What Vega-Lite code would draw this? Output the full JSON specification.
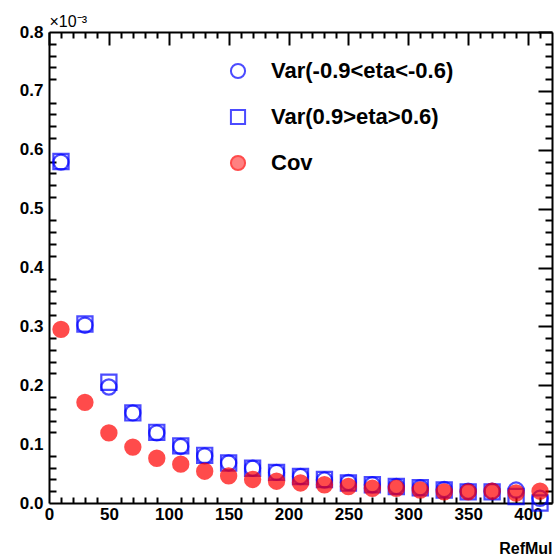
{
  "$schema": "https://vega.github.io/schema/vega-lite/v6.json",
  "width": 503,
  "height": 471,
  "autosize": {"type": "none"},
  "padding": {"left": 49, "top": 32, "right": 3, "bottom": 55},
  "background": "white",
  "config": {
    "view": {"stroke": null},
    "font": "Liberation Sans",
    "axis": {"domainColor": "black", "domainWidth": 2, "tickColor": "black", "tickWidth": 2, "grid": false, "labelFont": "Liberation Sans", "labelFontWeight": "bold", "labelFontSize": 17, "labelColor": "black"}
  },
  "datasets": {
    "pts": [
      {"RefMul": 10, "val": 0.579, "series": "Var(-0.9<eta<-0.6)"},
      {"RefMul": 30, "val": 0.302, "series": "Var(-0.9<eta<-0.6)"},
      {"RefMul": 50, "val": 0.197, "series": "Var(-0.9<eta<-0.6)"},
      {"RefMul": 70, "val": 0.153, "series": "Var(-0.9<eta<-0.6)"},
      {"RefMul": 90, "val": 0.119, "series": "Var(-0.9<eta<-0.6)"},
      {"RefMul": 110, "val": 0.096, "series": "Var(-0.9<eta<-0.6)"},
      {"RefMul": 130, "val": 0.080, "series": "Var(-0.9<eta<-0.6)"},
      {"RefMul": 150, "val": 0.068, "series": "Var(-0.9<eta<-0.6)"},
      {"RefMul": 170, "val": 0.059, "series": "Var(-0.9<eta<-0.6)"},
      {"RefMul": 190, "val": 0.052, "series": "Var(-0.9<eta<-0.6)"},
      {"RefMul": 210, "val": 0.045, "series": "Var(-0.9<eta<-0.6)"},
      {"RefMul": 230, "val": 0.039, "series": "Var(-0.9<eta<-0.6)"},
      {"RefMul": 250, "val": 0.035, "series": "Var(-0.9<eta<-0.6)"},
      {"RefMul": 270, "val": 0.031, "series": "Var(-0.9<eta<-0.6)"},
      {"RefMul": 290, "val": 0.028, "series": "Var(-0.9<eta<-0.6)"},
      {"RefMul": 310, "val": 0.026, "series": "Var(-0.9<eta<-0.6)"},
      {"RefMul": 330, "val": 0.023, "series": "Var(-0.9<eta<-0.6)"},
      {"RefMul": 350, "val": 0.020, "series": "Var(-0.9<eta<-0.6)"},
      {"RefMul": 370, "val": 0.020, "series": "Var(-0.9<eta<-0.6)"},
      {"RefMul": 390, "val": 0.022, "series": "Var(-0.9<eta<-0.6)"},
      {"RefMul": 410, "val": 0.008, "series": "Var(-0.9<eta<-0.6)"},
      {"RefMul": 10, "val": 0.580, "series": "Var(0.9>eta>0.6)"},
      {"RefMul": 30, "val": 0.304, "series": "Var(0.9>eta>0.6)"},
      {"RefMul": 50, "val": 0.205, "series": "Var(0.9>eta>0.6)"},
      {"RefMul": 70, "val": 0.153, "series": "Var(0.9>eta>0.6)"},
      {"RefMul": 90, "val": 0.120, "series": "Var(0.9>eta>0.6)"},
      {"RefMul": 110, "val": 0.097, "series": "Var(0.9>eta>0.6)"},
      {"RefMul": 130, "val": 0.081, "series": "Var(0.9>eta>0.6)"},
      {"RefMul": 150, "val": 0.068, "series": "Var(0.9>eta>0.6)"},
      {"RefMul": 170, "val": 0.059, "series": "Var(0.9>eta>0.6)"},
      {"RefMul": 190, "val": 0.052, "series": "Var(0.9>eta>0.6)"},
      {"RefMul": 210, "val": 0.045, "series": "Var(0.9>eta>0.6)"},
      {"RefMul": 230, "val": 0.040, "series": "Var(0.9>eta>0.6)"},
      {"RefMul": 250, "val": 0.034, "series": "Var(0.9>eta>0.6)"},
      {"RefMul": 270, "val": 0.031, "series": "Var(0.9>eta>0.6)"},
      {"RefMul": 290, "val": 0.028, "series": "Var(0.9>eta>0.6)"},
      {"RefMul": 310, "val": 0.026, "series": "Var(0.9>eta>0.6)"},
      {"RefMul": 330, "val": 0.022, "series": "Var(0.9>eta>0.6)"},
      {"RefMul": 350, "val": 0.019, "series": "Var(0.9>eta>0.6)"},
      {"RefMul": 370, "val": 0.019, "series": "Var(0.9>eta>0.6)"},
      {"RefMul": 390, "val": 0.011, "series": "Var(0.9>eta>0.6)"},
      {"RefMul": 410, "val": 0.0, "series": "Var(0.9>eta>0.6)"},
      {"RefMul": 10, "val": 0.295, "series": "Cov"},
      {"RefMul": 30, "val": 0.171, "series": "Cov"},
      {"RefMul": 50, "val": 0.119, "series": "Cov"},
      {"RefMul": 70, "val": 0.095, "series": "Cov"},
      {"RefMul": 90, "val": 0.076, "series": "Cov"},
      {"RefMul": 110, "val": 0.066, "series": "Cov"},
      {"RefMul": 130, "val": 0.054, "series": "Cov"},
      {"RefMul": 150, "val": 0.046, "series": "Cov"},
      {"RefMul": 170, "val": 0.040, "series": "Cov"},
      {"RefMul": 190, "val": 0.037, "series": "Cov"},
      {"RefMul": 210, "val": 0.034, "series": "Cov"},
      {"RefMul": 230, "val": 0.031, "series": "Cov"},
      {"RefMul": 250, "val": 0.028, "series": "Cov"},
      {"RefMul": 270, "val": 0.025, "series": "Cov"},
      {"RefMul": 290, "val": 0.025, "series": "Cov"},
      {"RefMul": 310, "val": 0.022, "series": "Cov"},
      {"RefMul": 330, "val": 0.019, "series": "Cov"},
      {"RefMul": 350, "val": 0.019, "series": "Cov"},
      {"RefMul": 370, "val": 0.020, "series": "Cov"},
      {"RefMul": 390, "val": 0.017, "series": "Cov"},
      {"RefMul": 410, "val": 0.020, "series": "Cov"}
    ]
  },
  "data": {"name": "pts"},
  "resolve": {"axis": {"x": "independent", "y": "independent"}},
  "layer": [
    {
      "mark": {"type": "point", "opacity": 0},
      "encoding": {
        "x": {"field": "RefMul", "type": "quantitative", "scale": {"domain": [0, 420], "nice": false, "zero": false},
          "axis": {"orient": "top", "labels": false, "title": null, "domain": true, "tickSize": -6, "values": [10,20,30,40,60,70,80,90,110,120,130,140,160,170,180,190,210,220,230,240,260,270,280,290,310,320,330,340,360,370,380,390,410]}},
        "y": {"field": "val", "type": "quantitative", "scale": {"domain": [0, 0.8], "nice": false},
          "axis": {"orient": "right", "labels": false, "title": null, "domain": true, "tickSize": -7, "values": [0.02,0.04,0.06,0.08,0.12,0.14,0.16,0.18,0.22,0.24,0.26,0.28,0.32,0.34,0.36,0.38,0.42,0.44,0.46,0.48,0.52,0.54,0.56,0.58,0.62,0.64,0.66,0.68,0.72,0.74,0.76,0.78]}}
      }
    },
    {
      "mark": {"type": "point", "opacity": 0},
      "encoding": {
        "x": {"field": "RefMul", "type": "quantitative",
          "axis": {"orient": "top", "labels": false, "title": null, "domain": false, "tickSize": -13, "values": [0,50,100,150,200,250,300,350,400]}},
        "y": {"field": "val", "type": "quantitative",
          "axis": {"orient": "right", "labels": false, "title": null, "domain": false, "tickSize": -14, "values": [0,0.1,0.2,0.3,0.4,0.5,0.6,0.7,0.8]}}
      }
    },
    {
      "mark": {"type": "point", "opacity": 0},
      "encoding": {
        "x": {"field": "RefMul", "type": "quantitative",
          "axis": {"orient": "bottom", "labels": false, "title": null, "domain": false, "tickSize": -6, "values": [10,20,30,40,60,70,80,90,110,120,130,140,160,170,180,190,210,220,230,240,260,270,280,290,310,320,330,340,360,370,380,390,410]}},
        "y": {"field": "val", "type": "quantitative",
          "axis": {"orient": "left", "labels": false, "title": null, "domain": false, "tickSize": -7, "values": [0.02,0.04,0.06,0.08,0.12,0.14,0.16,0.18,0.22,0.24,0.26,0.28,0.32,0.34,0.36,0.38,0.42,0.44,0.46,0.48,0.52,0.54,0.56,0.58,0.62,0.64,0.66,0.68,0.72,0.74,0.76,0.78]}}
      }
    },
    {
      "mark": {"type": "point", "filled": false, "strokeWidth": 2.2, "size": 230},
      "encoding": {
        "x": {"field": "RefMul", "type": "quantitative",
          "axis": {"orient": "bottom", "ticks": false, "domain": true, "values": [0,50,100,150,200,250,300,350,400], "labelPadding": 3, "labelFlush": false,
            "title": "RefMul", "titleFont": "Liberation Sans", "titleFontWeight": "bold", "titleFontSize": 16, "titleColor": "black", "titleAnchor": "end", "titleAlign": "right", "titlePadding": 18}},
        "y": {"field": "val", "type": "quantitative",
          "axis": {"orient": "left", "ticks": false, "domain": true, "values": [0,0.1,0.2,0.3,0.4,0.5,0.6,0.7,0.8], "format": ".1f", "labelPadding": 6, "labelFlush": false,
            "title": "×10⁻³", "titleAngle": 0, "titleAlign": "left", "titleBaseline": "alphabetic", "titleX": 0, "titleY": -6, "titleFont": "Liberation Sans", "titleFontWeight": "normal", "titleFontSize": 16, "titleColor": "black"}},
        "shape": {"field": "series", "type": "nominal", "scale": {"domain": ["Var(-0.9<eta<-0.6)", "Var(0.9>eta>0.6)", "Cov"], "range": ["circle", "square", "circle"]},
          "legend": {"title": null, "orient": "none", "legendX": 178, "legendY": 28, "padding": 0, "labelFont": "Liberation Sans", "labelFontWeight": "bold", "labelFontSize": 22, "labelColor": "black", "labelOffset": 22, "symbolSize": 200, "symbolStrokeWidth": 2, "rowPadding": 22, "labelLimit": 400}},
        "color": {"field": "series", "type": "nominal", "scale": {"domain": ["Var(-0.9<eta<-0.6)", "Var(0.9>eta>0.6)", "Cov"], "range": ["#0000ff", "#0000ff", "#ff0000"]}},
        "fill": {"field": "series", "type": "nominal", "scale": {"domain": ["Var(-0.9<eta<-0.6)", "Var(0.9>eta>0.6)", "Cov"], "range": ["transparent", "transparent", "#ff0000"]}},
        "order": {"field": "RefMul"}
      }
    }
  ]
}
